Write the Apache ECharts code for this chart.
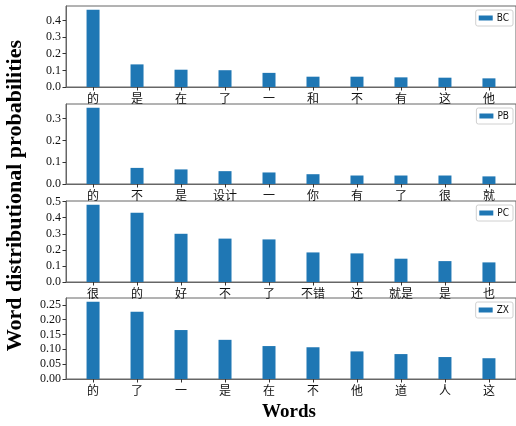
<!DOCTYPE html>
<html><head><meta charset="utf-8">
<script src="https://cdn.jsdelivr.net/npm/echarts@6/dist/echarts.min.js"></script>
<style>html,body{margin:0;padding:0;background:#fff}#c{width:516px;height:426px}</style>
</head><body><div id="c"></div>
<script>
// Top-10 word probabilities for each corpus
const bcWords = ['的', '是', '在', '了', '一', '和', '不', '有', '这', '他'];
const bcValues = [0.464, 0.136, 0.104, 0.101, 0.085, 0.062, 0.062, 0.058, 0.056, 0.052];

const pbWords = ['的', '不', '是', '设计', '一', '你', '有', '了', '很', '就'];
const pbValues = [0.350, 0.074, 0.067, 0.059, 0.053, 0.045, 0.039, 0.039, 0.039, 0.035];

const pcWords = ['很', '的', '好', '不', '了', '不错', '还', '就是', '是', '也'];
const pcValues = [0.480, 0.431, 0.300, 0.270, 0.265, 0.184, 0.178, 0.145, 0.130, 0.122];

const zxWords = ['的', '了', '一', '是', '在', '不', '他', '道', '人', '这'];
const zxValues = [0.260, 0.227, 0.165, 0.132, 0.111, 0.107, 0.093, 0.084, 0.074, 0.070];

const bcTicks = [0, 0.1, 0.2, 0.3, 0.4];
const pbTicks = [0, 0.1, 0.2, 0.3];
const pcTicks = [0, 0.1, 0.2, 0.3, 0.4, 0.5];
const zxTicks = [0, 0.05, 0.10, 0.15, 0.20, 0.25];

const panels = [
  { name: 'BC', words: bcWords, values: bcValues, ticks: bcTicks, digits: 1, top: 6, height: 81 },
  { name: 'PB', words: pbWords, values: pbValues, ticks: pbTicks, digits: 1, top: 104, height: 80 },
  { name: 'PC', words: pcWords, values: pcValues, ticks: pcTicks, digits: 1, top: 201, height: 81 },
  { name: 'ZX', words: zxWords, values: zxValues, ticks: zxTicks, digits: 2, top: 298, height: 81 }
];

const frame = '#666';
const serif = "'Liberation Serif', 'DejaVu Serif', serif";
const cjk = "'Noto Sans CJK SC', sans-serif";
const idx = [0, 1, 2, 3, 4, 5, 6, 7, 8, 9];

const option = {
  animation: false,
  backgroundColor: '#fff',
  grid: [], xAxis: [], yAxis: [], series: [], legend: [],
  graphic: [
    {
      type: 'text', left: 4, top: 40, rotation: Math.PI / 2,
      style: { text: 'Word distributional probabilities', font: "bold 22px 'Liberation Serif', serif", fill: '#000' }
    },
    {
      type: 'text', left: 262, top: 403,
      style: { text: 'Words', font: "bold 19px 'Liberation Serif', serif", fill: '#000' }
    }
  ]
};

panels.forEach((p, i) => {
  const ymax = Math.max(...p.values) * 1.05;
  option.grid.push({
    left: 66, right: 0, top: p.top, height: p.height,
    show: true, borderColor: frame, borderWidth: 1, backgroundColor: 'transparent'
  });
  option.xAxis.push({
    type: 'value', gridIndex: i, min: -0.615, max: 9.615,
    splitLine: { show: false },
    axisLine: { show: true, onZero: false, lineStyle: { color: frame } },
    axisTick: { show: true, length: 3.5, customValues: idx, lineStyle: { color: '#333' } },
    axisLabel: {
      customValues: idx, margin: 5, color: '#111', fontSize: 12, fontFamily: cjk,
      formatter: v => p.words[Math.round(v)]
    }
  });
  option.yAxis.push({
    type: 'value', gridIndex: i, min: 0, max: ymax,
    splitLine: { show: false },
    axisLine: { show: true, onZero: false, lineStyle: { color: frame } },
    axisTick: { show: true, length: 3.5, customValues: p.ticks, lineStyle: { color: '#333' } },
    axisLabel: {
      customValues: p.ticks, margin: 5, color: '#111', fontSize: 12, fontFamily: serif,
      formatter: v => v.toFixed(p.digits)
    }
  });
  option.series.push({
    type: 'bar', name: p.name, xAxisIndex: i, yAxisIndex: i,
    barWidth: 13,
    itemStyle: { color: '#1f77b4' },
    data: p.values.map((v, k) => [k, v])
  });
  option.legend.push({
    data: [p.name], right: 3, top: p.top + 4,
    icon: 'rect', itemWidth: 14, itemHeight: 5, itemGap: 4,
    padding: [3, 4, 3, 3], borderColor: '#d0d0d0', borderWidth: 1, borderRadius: 2,
    backgroundColor: '#fff',
    textStyle: { fontSize: 10, color: '#111', padding: [0, 0, 0, -1],
      fontFamily: "'DejaVu Sans Condensed', 'Liberation Sans Narrow', 'DejaVu Sans', sans-serif" }
  });
});

const chart = echarts.init(document.getElementById('c'), null, { renderer: 'canvas' });
chart.setOption(option);
</script>
</body></html>
